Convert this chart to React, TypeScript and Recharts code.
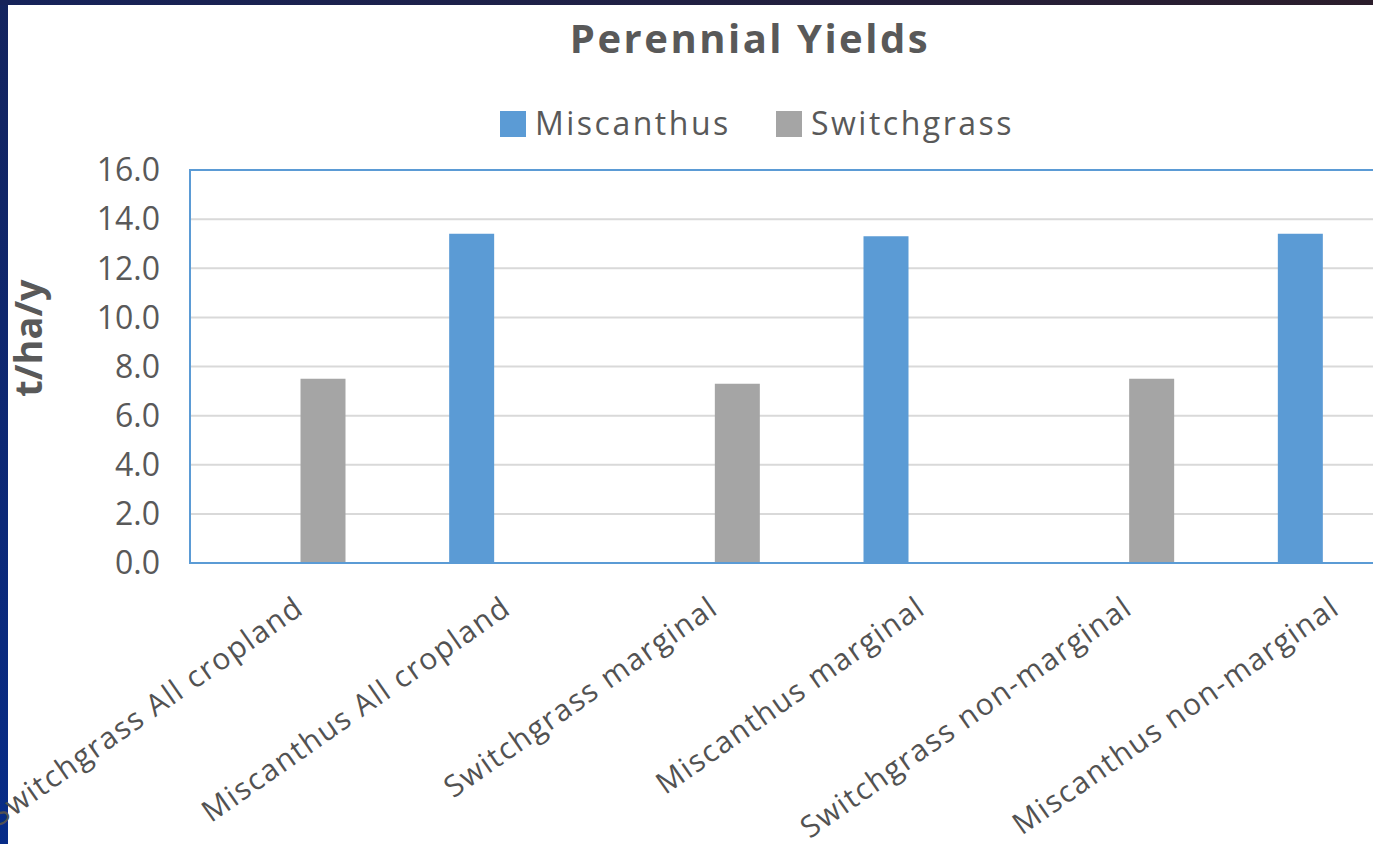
import React from 'react';
import { BarChart, Bar, XAxis, YAxis, CartesianGrid, ReferenceArea, Label } from 'recharts';

const categories = [
  'Switchgrass All cropland',
  'Miscanthus All cropland',
  'Switchgrass marginal',
  'Miscanthus marginal',
  'Switchgrass non-marginal',
  'Miscanthus non-marginal',
];
const miscanthus = [null, 13.4, null, 13.3, null, 13.4];
const switchgrass = [7.5, null, 7.3, null, 7.5, null];
const yTicks = [0, 2, 4, 6, 8, 10, 12, 14, 16];

const SERIES = [
  { key: 'Miscanthus', color: '#5b9bd5' },
  { key: 'Switchgrass', color: '#a5a5a5' },
];

const data = categories.map((name, i) => ({
  name,
  Miscanthus: miscanthus[i],
  Switchgrass: switchgrass[i],
}));

const FONT = '"Open Sans", Calibri, sans-serif';
const TEXT = '#595959';

const XTick = (props: any) => {
  const { x, y, payload } = props;
  const ax = x + 12;
  const ay = y + 41;
  return (
    <text
      x={ax}
      y={ay}
      transform={`rotate(-35, ${ax}, ${ay})`}
      textAnchor="end"
      fill="#525252"
      fontSize={30}
      letterSpacing={1.5}
      fontFamily={FONT}
    >
      {payload.value}
    </text>
  );
};

export default function App() {
  return (
    <div
      style={{
        position: 'absolute',
        left: 0,
        top: 0,
        width: 1373,
        height: 844,
        overflow: 'hidden',
        background: 'linear-gradient(180deg, #14245e 0%, #072c88 100%)',
      }}
    >
      <div
        style={{
          position: 'absolute',
          left: 0,
          top: 0,
          width: 1373,
          height: 5,
          background: 'linear-gradient(90deg, #16235a 0%, #2b1d2b 100%)',
        }}
      />
      <div style={{ position: 'absolute', left: 8, top: 5, width: 1365, height: 839, background: '#fff' }} />
      <div style={{ position: 'absolute', left: 0, top: 0 }}>
        <BarChart
          width={1453}
          height={844}
          data={data}
          margin={{ top: 170, right: 20, bottom: 0, left: 0 }}
          barSize={45}
          barGap={13.5}
        >
          <CartesianGrid vertical={false} stroke="#d9d9d9" strokeWidth={2} />
          <ReferenceArea y1={0} y2={16} fill="none" stroke="#5b9bd5" strokeWidth={2} />
          <XAxis
            dataKey="name"
            interval={0}
            height={281}
            tickLine={false}
            axisLine={{ stroke: '#5b9bd5', strokeWidth: 2 }}
            tick={<XTick />}
          />
          <YAxis
            width={190}
            domain={[0, 16]}
            ticks={yTicks}
            interval={0}
            tickLine={false}
            axisLine={{ stroke: '#5b9bd5', strokeWidth: 2 }}
            tickSize={0}
            tickMargin={30}
            tickFormatter={(v: number) => v.toFixed(1)}
            tick={{ fill: TEXT, fontSize: 32, fontFamily: FONT }}
          >
            <Label
              content={() => (
                <text
                  x={42}
                  y={338}
                  transform="rotate(-90, 42, 338)"
                  textAnchor="middle"
                  fill={TEXT}
                  fontSize={38}
                  fontWeight="bold"
                  fontFamily={FONT}
                >
                  t/ha/y
                </text>
              )}
            />
          </YAxis>
          {SERIES.map((s) => (
            <Bar key={s.key} dataKey={s.key} fill={s.color} isAnimationActive={false} />
          ))}
        </BarChart>
      </div>
      <svg width={1373} height={170} style={{ position: 'absolute', left: 0, top: 0, pointerEvents: 'none' }}>
        <text
          x={750}
          y={53}
          textAnchor="middle"
          fill={TEXT}
          fontSize={40}
          fontWeight="bold"
          letterSpacing={2.5}
          fontFamily={FONT}
        >
          Perennial Yields
        </text>
        {SERIES.map((s, i) => {
          const lx = 500 + i * 276;
          return (
            <g key={s.key}>
              <rect x={lx} y={111} width={26} height={26} fill={s.color} />
              <text x={lx + 35} y={135} fill={TEXT} fontSize={32} letterSpacing={2.5} fontFamily={FONT}>
                {s.key}
              </text>
            </g>
          );
        })}
      </svg>
    </div>
  );
}
